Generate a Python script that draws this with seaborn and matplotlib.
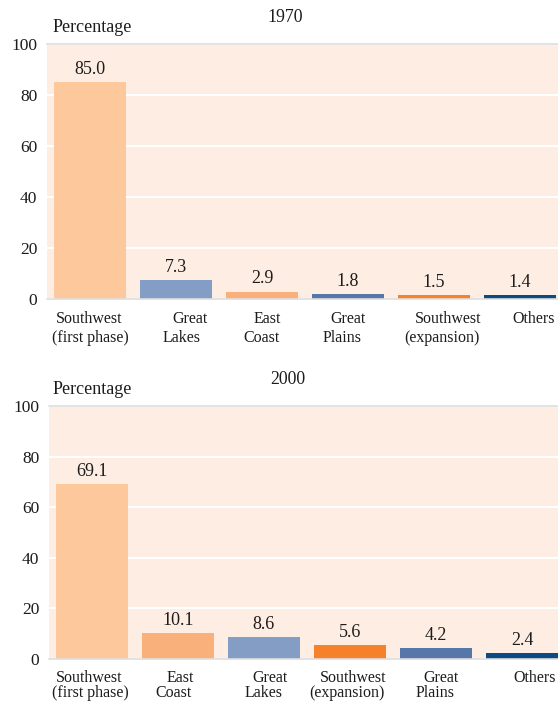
import matplotlib
matplotlib.use("Agg")
import matplotlib.pyplot as plt
import seaborn as sns
import pandas as pd

# Regional shares (percent) of the two snapshot years
regions_1970 = ["Southwest\n(first phase)", "Great\nLakes", "East\nCoast",
                "Great\nPlains", "Southwest\n(expansion)", "Others"]
values_1970 = [85.0, 7.3, 2.9, 1.8, 1.5, 1.4]

regions_2000 = ["Southwest\n(first phase)", "East\nCoast", "Great\nLakes",
                "Southwest\n(expansion)", "Great\nPlains", "Others"]
values_2000 = [69.1, 10.1, 8.6, 5.6, 4.2, 2.4]

region_colors = {
    "Southwest\n(first phase)": "#fdc89c",
    "Great\nLakes": "#849dc5",
    "East\nCoast": "#f9b07a",
    "Great\nPlains": "#5677a8",
    "Southwest\n(expansion)": "#f5822a",
    "Others": "#0b4a84",
}

sns.set_theme(style="white")
plt.rcParams["font.family"] = ["Liberation Serif", "DejaVu Serif"]

TEXT = "#1c1c1c"
W, H = 558, 702
fig = plt.figure(figsize=(W / 100, H / 100), dpi=100)
fig.patch.set_facecolor("white")

# pixel offsets (line 1, line 2) of each category label from its bar centre
label_shift_1970 = [(-1, 0), (14, 6), (5, -1), (0, -6), (14, 8), (14, 0)]
label_shift_2000 = [(-3, -2), (2, -4), (6, 0), (3, -3), (5, -1), (13, 0)]


def panel(left, top_px, bottom_px, right, year, cats, vals, shifts,
          title_x, pct_x, line_y):
    ax = fig.add_axes([left / W, 1 - bottom_px / H, (right - left) / W,
                       (bottom_px - top_px) / H])
    df = pd.DataFrame({"region": cats, "share": vals})
    sns.barplot(data=df, x="region", y="share", hue="region",
                palette=region_colors, order=cats, hue_order=cats,
                width=0.84, legend=False, ax=ax, saturation=1, linewidth=0)
    ax.set_facecolor("#feede2")
    ax.set_ylim(0, 100)
    ax.set_xlim(-0.5, len(cats) - 0.5)
    ax.set_yticks([0, 20, 40, 60, 80, 100])
    ax.tick_params(axis="y", length=0, pad=7, labelsize=12.5, colors=TEXT)
    ax.set_xticks([])
    ax.set_xlabel("")
    ax.set_ylabel("")
    ax.set_axisbelow(True)
    ax.grid(axis="y", color="white", linewidth=1.5)
    for side in ("left", "right"):
        ax.spines[side].set_visible(False)
    for side in ("top", "bottom"):
        ax.spines[side].set_visible(True)
        ax.spines[side].set_color("#dedede")
        ax.spines[side].set_linewidth(1.2)

    for cont in ax.containers:
        ax.bar_label(cont, fmt="%.1f", padding=3, fontsize=13, color=TEXT)

    y1, y2 = line_y
    for i, (lab, (d1, d2)) in enumerate(zip(cats, shifts)):
        lines = lab.split("\n")
        ax.annotate(lines[0], xy=(i, 0), xycoords=("data", "axes fraction"),
                    xytext=(d1, y1), textcoords="offset pixels",
                    ha="center", va="center", fontsize=11.5, color=TEXT)
        if len(lines) > 1:
            ax.annotate(lines[1], xy=(i, 0), xycoords=("data", "axes fraction"),
                        xytext=(d2, y2), textcoords="offset pixels",
                        ha="center", va="center", fontsize=11.5, color=TEXT)

    fig.text(title_x / W, 1 - (top_px - 26) / H, year, ha="center", va="center",
             fontsize=12.8, color=TEXT)
    fig.text(pct_x / W, 1 - (top_px - 16) / H, "Percentage", ha="left", va="center",
             fontsize=13, color=TEXT)
    return ax


panel(47, 44, 299, 563, "1970", regions_1970, values_1970, label_shift_1970,
      285.5, 53, (-20, -39))
panel(49, 406, 659, 565, "2000", regions_2000, values_2000, label_shift_2000,
      288, 53, (-19, -34))

fig.savefig("out.png", dpi=100)
